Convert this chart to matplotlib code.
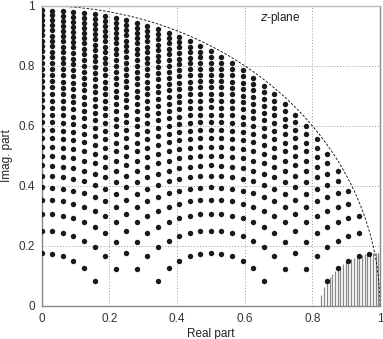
import numpy as np
import matplotlib.pyplot as plt

# quantisation codes of the two coefficients (5 bit fraction, step 1/32)
real_codes = list(range(0, 32))      # real part  = code / 32
radius2_codes = list(range(0, 32))   # radius^2   = code / 32
step = 1 / 32

# vertical hatch lines near z = 1 (x positions)
hatch_x = [0.827, 0.835, 0.843, 0.851, 0.859, 0.867, 0.875, 0.883, 0.891,
           0.899, 0.907, 0.915, 0.923, 0.931, 0.939, 0.947, 0.955, 0.963,
           0.971, 0.979, 0.987, 0.995]
hatch_r2 = 1 / 32   # radius^2 of the small circle centred at z = 1

tick_vals = [0, 0.2, 0.4, 0.6, 0.8, 1]
tick_labels = ["0", "0.2", "0.4", "0.6", "0.8", "1"]

plt.rcParams['font.family'] = ['Liberation Sans', 'DejaVu Sans']

re_pts, im_pts = [], []
for k in real_codes:
    for n in radius2_codes:
        im2 = n * step - (k * step) ** 2
        if im2 > 0:
            re_pts.append(k * step)
            im_pts.append(np.sqrt(im2))

fig = plt.figure(figsize=(3.83, 3.39), dpi=100)
ax = fig.add_axes([0.109, 0.098, 0.883, 0.885])

# hatch region
hx = np.array(hatch_x)
htop = np.sqrt(np.clip(hatch_r2 - (hx - 1) ** 2, 0, None))
ax.vlines(hx, 0, htop, color="#888888", linewidth=0.9, zorder=1)

# unit circle
th = np.linspace(0, np.pi / 2, 300)
ax.plot(np.cos(th), np.sin(th), color="black", linestyle=(0, (3, 2)), linewidth=0.6, zorder=2)

ax.plot(re_pts, im_pts, linestyle="", marker="o", markersize=3.9,
        color="#1a1a1a", markeredgewidth=0, zorder=3)

ax.set_xlim(0, 1)
ax.set_ylim(0, 1)
ax.set_xticks(tick_vals)
ax.set_xticklabels(tick_labels)
ax.set_yticks(tick_vals)
ax.set_yticklabels(tick_labels)
ax.tick_params(length=0, labelsize=8.5, colors="#333333", pad=5)
ax.grid(True, color="#999999", linestyle=(0, (1, 2)), linewidth=0.7)
for s in ax.spines.values():
    s.set_color("#888888")
    s.set_linewidth(1.0)
ax.spines['top'].set_color("#bbbbbb")

ax.set_xlabel("Real part", fontsize=8.5, color="#222222", labelpad=2)
ax.set_ylabel("Imag. part", fontsize=8.5, color="#222222", labelpad=4)
ax.text(0.705, 0.958, r"$z$-plane", ha="center", va="center", fontsize=8.5,
        color="#222222", math_fontfamily="dejavusans")

fig.savefig("out.png", dpi=100)
plt.close(fig)
